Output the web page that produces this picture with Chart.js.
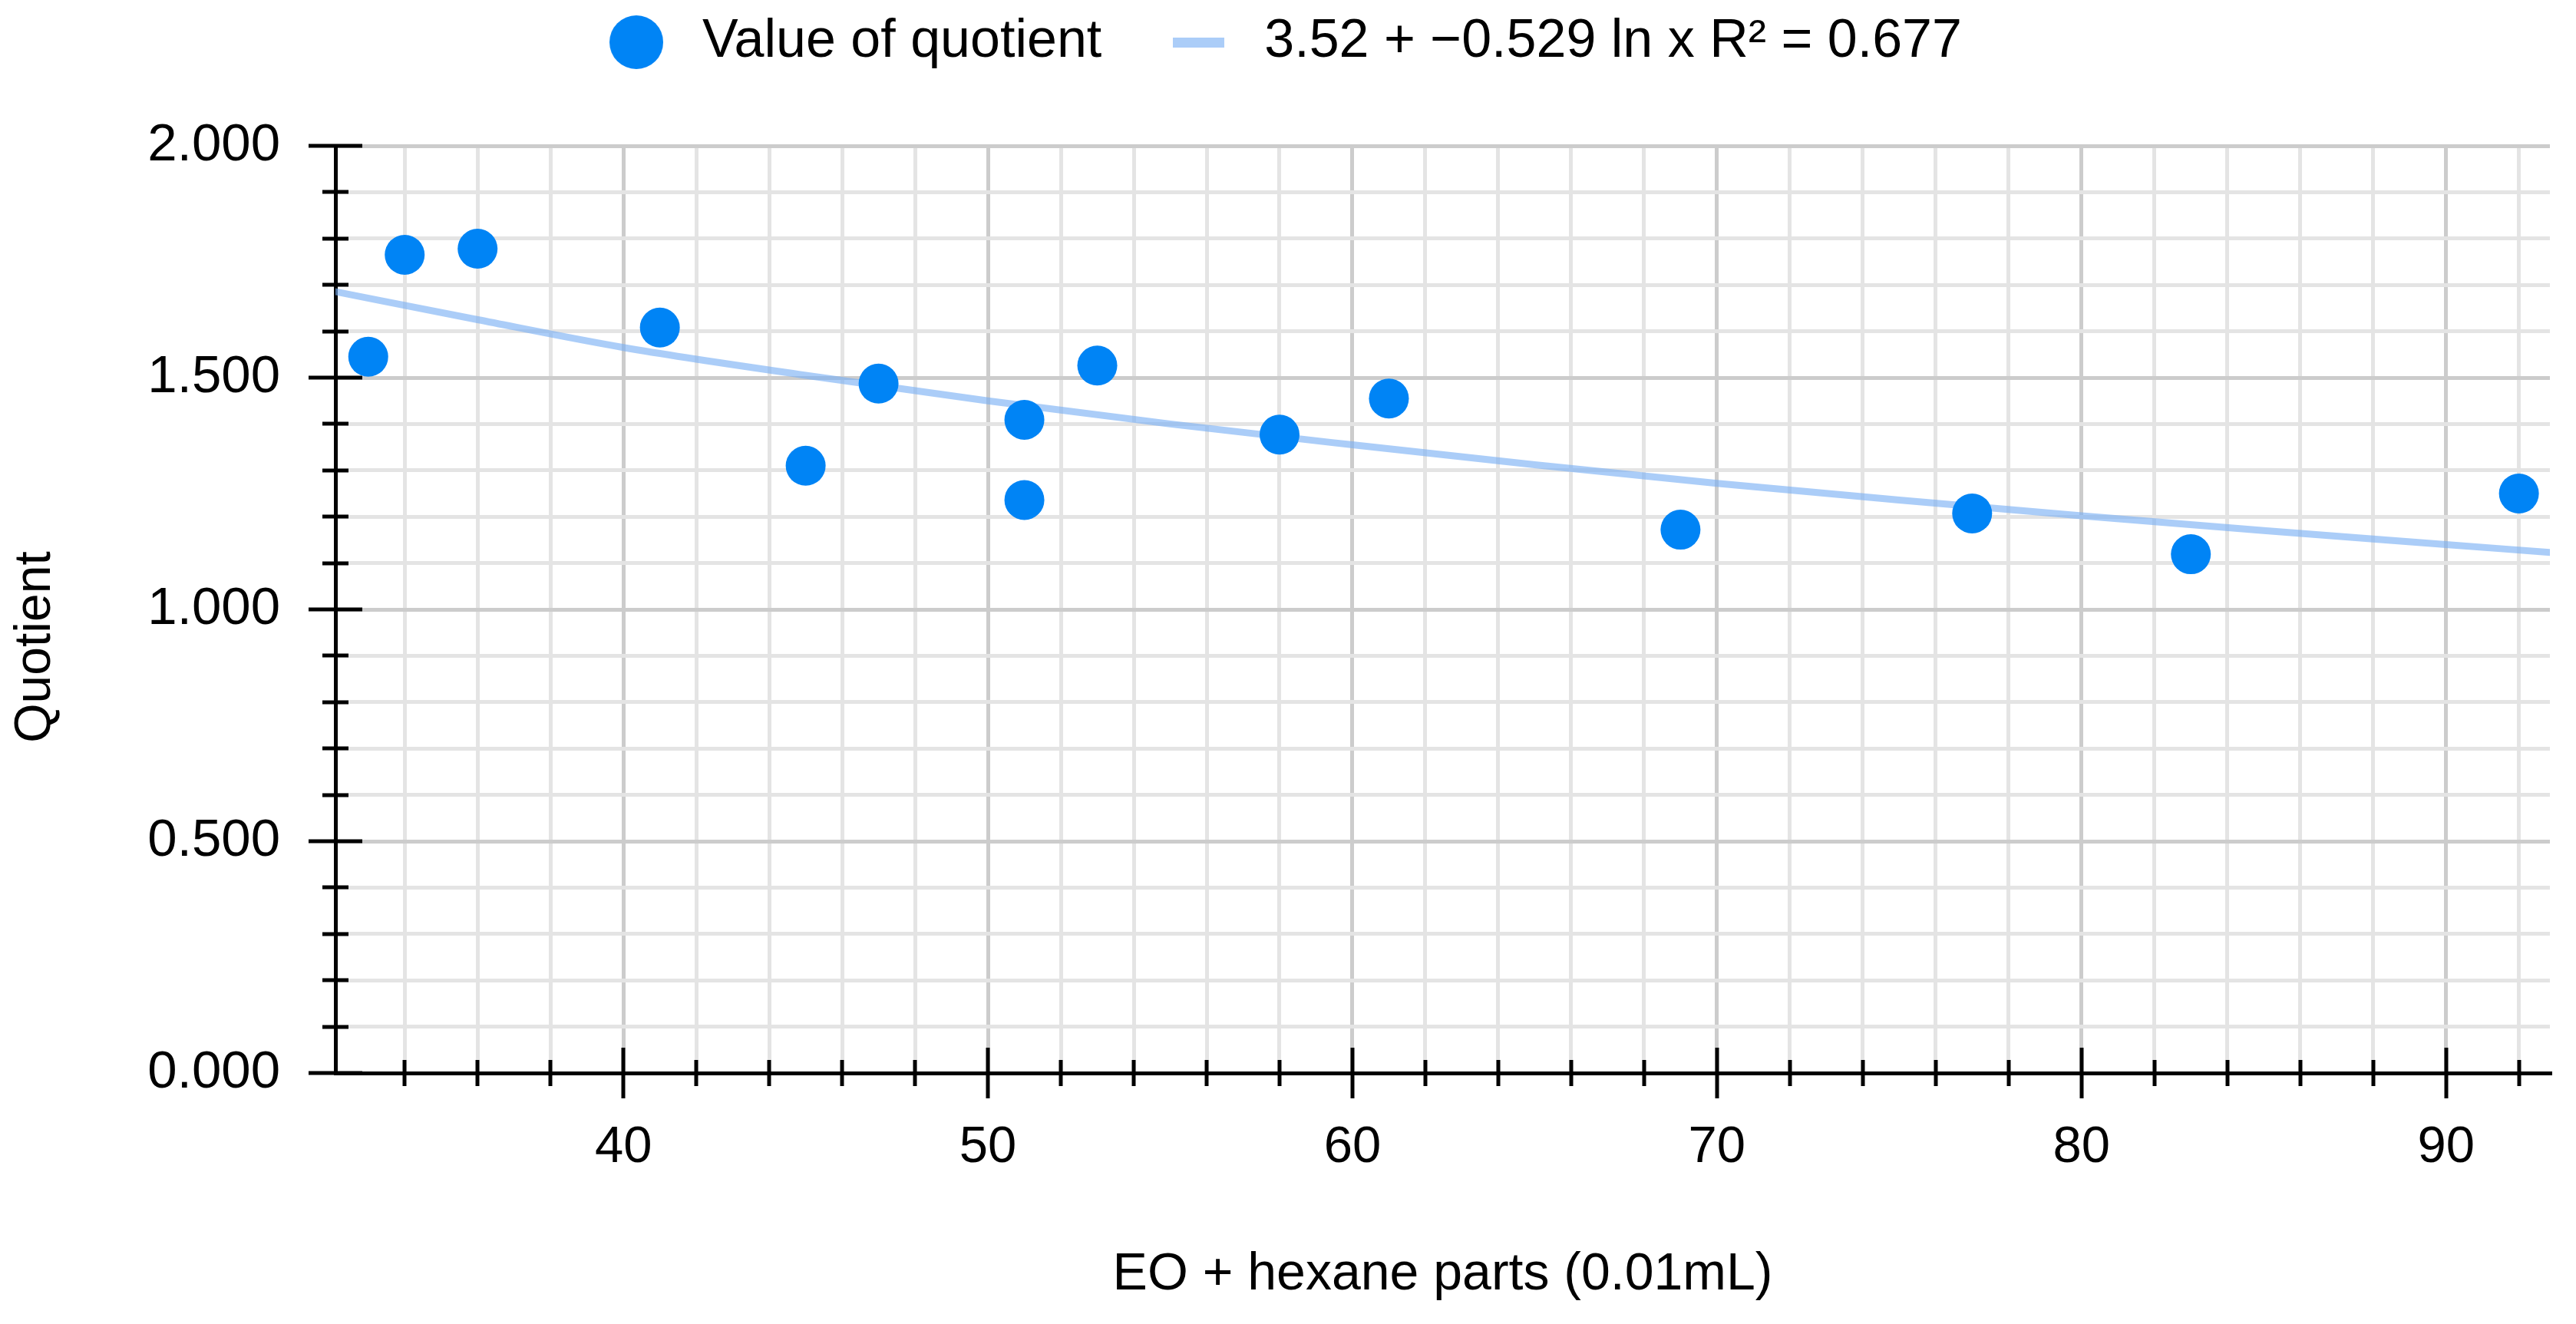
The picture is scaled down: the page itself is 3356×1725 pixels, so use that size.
<!DOCTYPE html>
<html>
<head>
<meta charset="utf-8">
<script src="https://cdn.jsdelivr.net/npm/chart.js@4.4.1/dist/chart.umd.min.js"></script>
<style>
html,body{margin:0;padding:0;background:#fff;}
#wrap{width:3356px;height:1725px;}
</style>
</head>
<body>
<div id="wrap"><canvas id="c" width="3356" height="1725"></canvas></div>
<script>
// ---- data ----
const xValues = [33, 34, 36, 41, 45, 47, 51, 51, 53, 58, 61, 69, 77, 83, 92];
const yValues = [1.545, 1.765, 1.778, 1.608, 1.310, 1.487, 1.409, 1.236, 1.526, 1.377, 1.455, 1.172, 1.207, 1.119, 1.250];
// trend curve, values
const trendX = [32, 36, 40, 45, 50, 55, 60, 65, 70, 75, 80, 85, 90, 93];
const trendY = [1.687, 1.625, 1.565, 1.505, 1.450, 1.400, 1.355, 1.312, 1.272, 1.236, 1.202, 1.170, 1.140, 1.122];
const seriesLabels = ['Value of quotient', '3.52 + \u22120.529 ln x R\u00b2 = 0.677'];
const xMajorTicks = [40, 50, 60, 70, 80, 90];
const yTickLabels = ['0.000', '0.500', '1.000', '1.500', '2.000'];
const xAxisTitle = 'EO + hexane parts (0.01mL)';
const yAxisTitle = 'Quotient';

// ---- styling ----
const FONT = 'Liberation Sans, Arial, Helvetica, sans-serif';
const POINT_COLOR = '#0084f5';
const TREND_COLOR = 'rgba(120,175,243,0.62)';
const TREND_SWATCH = '#abcdf8';
const GRID_MAJOR = '#cccccc';
const GRID_MINOR = '#e4e4e4';

const X_MIN = 32.1, X_MAX = 92.85, X_STEP = 2, X_FIRST = 34;
const Y_MIN = 0, Y_MAX = 2, Y_STEP = 0.1;

function isMajorX(v) { return xMajorTicks.indexOf(Math.round(v * 1000) / 1000) >= 0; }
function yLabelFor(v) {
  const idx = Math.round(v / 0.5);
  if (Math.abs(v - idx * 0.5) < 1e-6 && idx >= 0 && idx < yTickLabels.length) return yTickLabels[idx];
  return null;
}
function isMajorY(v) { return yLabelFor(v) !== null; }

// legend swatches
const circleImg = document.createElement('canvas');
circleImg.width = 70; circleImg.height = 70;
(function () {
  const c = circleImg.getContext('2d');
  c.fillStyle = POINT_COLOR;
  c.beginPath(); c.arc(35, 35, 35, 0, Math.PI * 2); c.fill();
})();
const barImg = document.createElement('canvas');
barImg.width = 67; barImg.height = 13;
(function () {
  const c = barImg.getContext('2d');
  c.fillStyle = TREND_SWATCH;
  c.fillRect(0, 0, 67, 13);
})();
const legendImgs = [circleImg, barImg];

// crossing tick marks on both axes
const crossTicks = {
  id: 'crossTicks',
  beforeDatasetsDraw(chart) {
    const { ctx, chartArea, scales } = chart;
    const x = scales.x, y = scales.y;
    ctx.save();
    ctx.strokeStyle = '#000';
    ctx.lineWidth = 5;
    y.ticks.forEach(t => {
      const py = Math.round(y.getPixelForValue(t.value));
      const L = isMajorY(t.value) ? 35 : 17;
      ctx.beginPath();
      ctx.moveTo(chartArea.left - L, py);
      ctx.lineTo(chartArea.left + L, py);
      ctx.stroke();
    });
    x.ticks.forEach(t => {
      const px = Math.round(x.getPixelForValue(t.value));
      const L = isMajorX(t.value) ? 33 : 17;
      ctx.beginPath();
      ctx.moveTo(px, chartArea.bottom - L);
      ctx.lineTo(px, chartArea.bottom + L);
      ctx.stroke();
    });
    ctx.restore();
  }
};

// y axis title
const yTitle = {
  id: 'yTitle',
  afterDraw(chart) {
    const { ctx, chartArea } = chart;
    ctx.save();
    ctx.fillStyle = '#000';
    ctx.font = '66px ' + FONT;
    ctx.textAlign = 'center';
    ctx.textBaseline = 'middle';
    ctx.translate(47, (chartArea.top + chartArea.bottom) / 2 + 49);
    ctx.rotate(-Math.PI / 2);
    ctx.fillText(yAxisTitle, 0, 0);
    ctx.restore();
  }
};

// extra room under the legend, and a small horizontal nudge
const legendBand = {
  id: 'legendBand',
  beforeLayout(chart) {
    if (chart.legend && !chart.legend._patched) {
      const orig = chart.legend.fit;
      chart.legend.fit = function () { orig.call(this); this.height = 245; };
      chart.legend._patched = true;
    }
  },
  afterLayout(chart) {
    if (chart.legend) { chart.legend.left += 6; chart.legend.right += 6; }
  }
};

new Chart(document.getElementById('c'), {
  type: 'scatter',
  data: {
    datasets: [
      {
        label: seriesLabels[0],
        data: xValues.map((v, i) => ({ x: v, y: yValues[i] })),
        backgroundColor: POINT_COLOR,
        borderColor: POINT_COLOR,
        borderWidth: 0,
        pointRadius: 26,
        pointHoverRadius: 26,
        order: 0
      },
      {
        label: seriesLabels[1],
        type: 'line',
        data: trendX.map((v, i) => ({ x: v, y: trendY[i] })),
        borderColor: TREND_COLOR,
        backgroundColor: TREND_COLOR,
        borderWidth: 9,
        pointRadius: 0,
        pointHoverRadius: 0,
        fill: false,
        showLine: true,
        cubicInterpolationMode: 'monotone',
        order: 1
      }
    ]
  },
  options: {
    responsive: false,
    animation: false,
    devicePixelRatio: 1,
    layout: { padding: { left: 0, right: 34, top: -55, bottom: 0 } },
    plugins: {
      tooltip: { enabled: false },
      legend: {
        display: true,
        position: 'top',
        align: 'center',
        labels: {
          usePointStyle: true,
          pointStyleWidth: 102,
          boxHeight: 70,
          padding: 75,
          color: '#000',
          font: { family: FONT, size: 70 },
          generateLabels(chart) {
            return chart.data.datasets.map((ds, i) => ({
              text: ds.label,
              pointStyle: legendImgs[i],
              fillStyle: 'transparent',
              strokeStyle: 'transparent',
              lineWidth: 0,
              hidden: false,
              datasetIndex: i,
              fontColor: '#000'
            }));
          }
        }
      }
    },
    scales: {
      x: {
        type: 'linear',
        position: 'bottom',
        min: X_MIN,
        max: X_MAX,
        afterBuildTicks(scale) {
          const t = [];
          for (let v = X_FIRST; v <= X_MAX + 1e-9; v += X_STEP) t.push({ value: Math.round(v * 1000) / 1000 });
          scale.ticks = t;
        },
        afterFit(scale) { scale.height = 327; },
        grid: {
          display: true,
          drawTicks: false,
          lineWidth: 5,
          color: (c) => (c.tick && isMajorX(c.tick.value)) ? GRID_MAJOR : GRID_MINOR
        },
        border: { display: true, color: '#000', width: 5 },
        ticks: {
          autoSkip: false,
          maxRotation: 0,
          padding: 57,
          color: '#000',
          font: { family: FONT, size: 67 },
          callback: (v) => isMajorX(v) ? String(v) : ''
        },
        title: {
          display: true,
          text: xAxisTitle,
          color: '#000',
          font: { family: FONT, size: 68 },
          padding: { top: 0, bottom: 23 }
        }
      },
      y: {
        type: 'linear',
        position: 'left',
        min: Y_MIN,
        max: Y_MAX,
        afterBuildTicks(scale) {
          const t = [];
          const n = Math.round((Y_MAX - Y_MIN) / Y_STEP);
          for (let i = 0; i <= n; i++) t.push({ value: Math.round((Y_MIN + i * Y_STEP) * 10) / 10 });
          scale.ticks = t;
        },
        afterFit(scale) { scale.width = 437; },
        grid: {
          display: true,
          drawTicks: false,
          lineWidth: 5,
          color: (c) => (c.tick && isMajorY(c.tick.value)) ? GRID_MAJOR : GRID_MINOR
        },
        border: { display: true, color: '#000', width: 5 },
        ticks: {
          autoSkip: false,
          padding: 72,
          color: '#000',
          font: { family: FONT, size: 69 },
          callback: (v) => { const l = yLabelFor(v); return l === null ? '' : l; }
        },
        title: { display: false }
      }
    }
  },
  plugins: [crossTicks, yTitle, legendBand]
});
</script>
</body>
</html>
